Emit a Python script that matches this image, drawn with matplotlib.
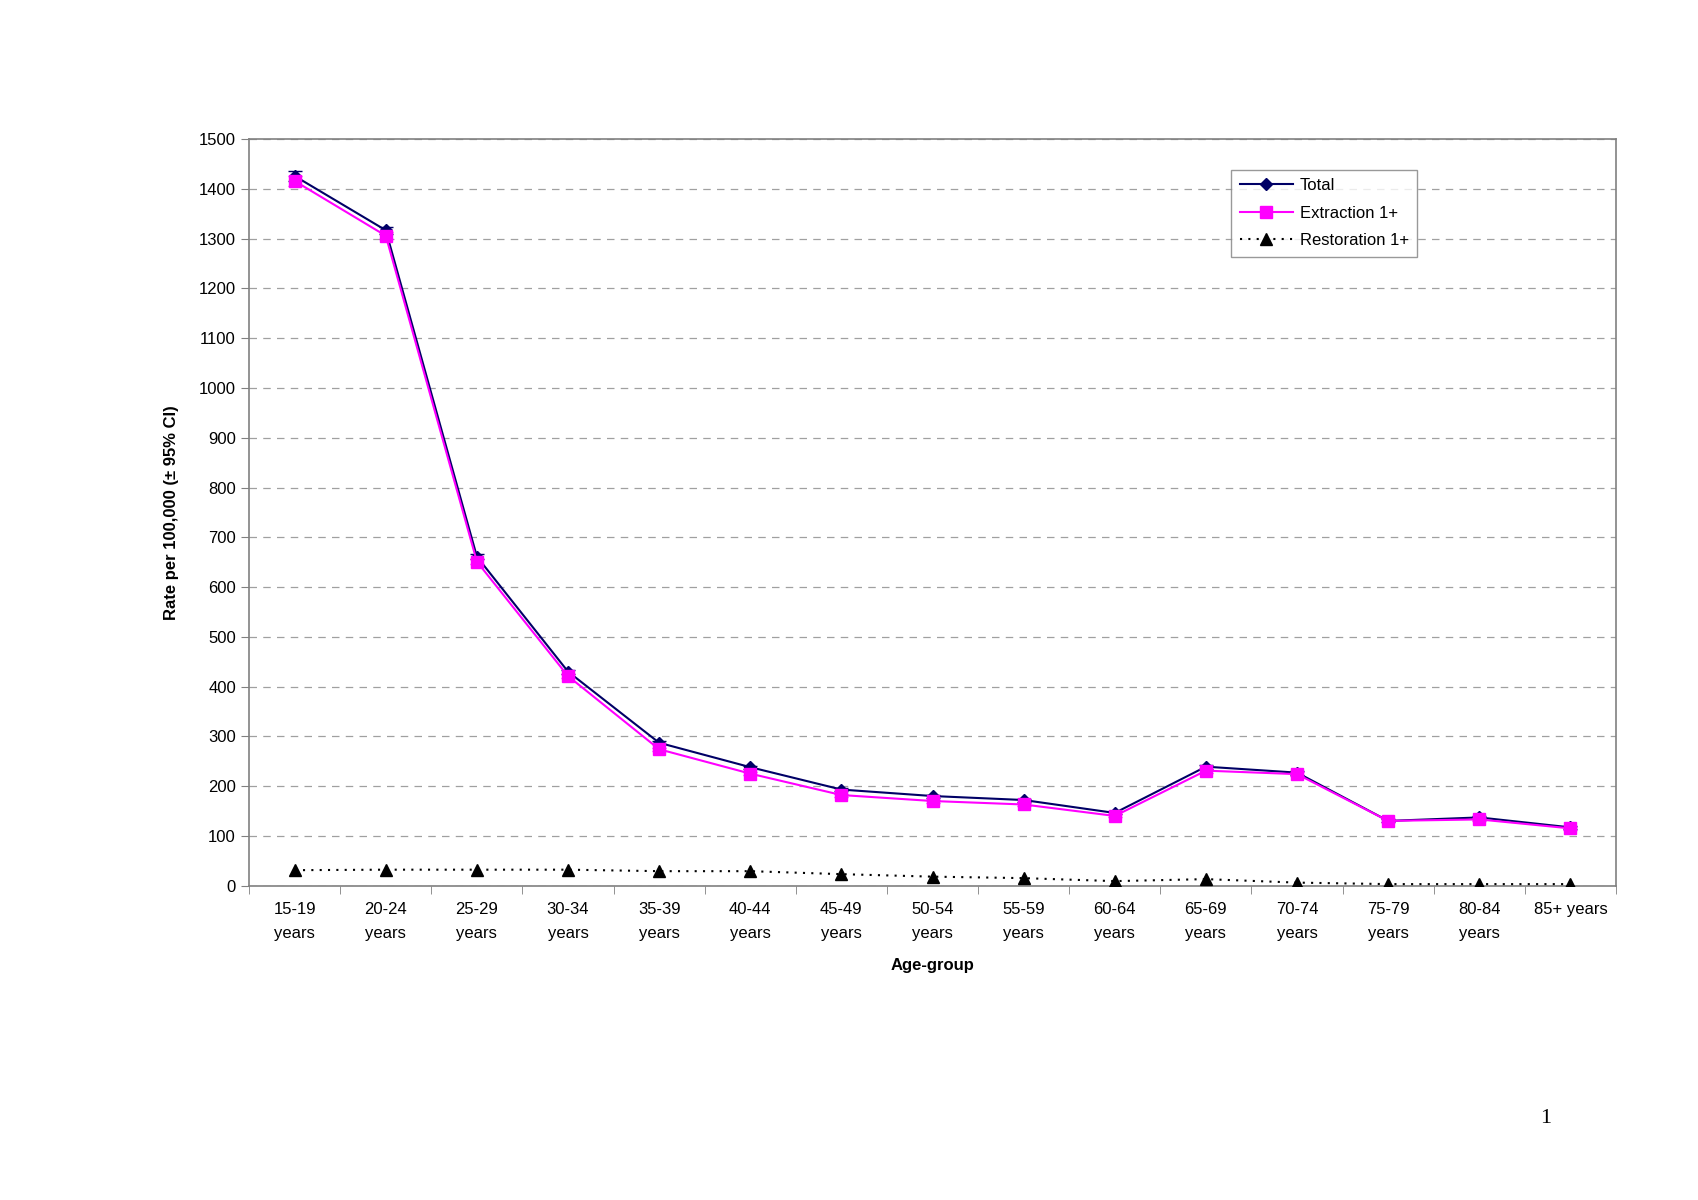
import numpy as np
import matplotlib.pyplot as plt
from matplotlib.ticker import MultipleLocator, FixedLocator
from matplotlib.lines import Line2D

plt.rcParams['font.family'] = ['Liberation Sans', 'DejaVu Sans']

age_groups = ["15-19\nyears", "20-24\nyears", "25-29\nyears", "30-34\nyears", "35-39\nyears",
              "40-44\nyears", "45-49\nyears", "50-54\nyears", "55-59\nyears", "60-64\nyears",
              "65-69\nyears", "70-74\nyears", "75-79\nyears", "80-84\nyears", "85+ years"]
total = [1426, 1317, 661, 430, 287, 238, 193, 180, 172, 146, 239, 227, 130, 137, 117]
total_ci = [10, 7, 5, 4, 3, 3, 3, 3, 3, 3, 4, 4, 3, 3, 3]
extraction = [1416, 1306, 651, 421, 274, 225, 182, 170, 163, 140, 231, 224, 130, 133, 115]
extraction_ci = [10, 7, 5, 4, 3, 3, 3, 3, 3, 3, 4, 4, 3, 3, 3]
restoration = [31, 32, 32, 32, 29, 29, 23, 18, 15, 9, 13, 6, 3, 3, 3]

fig = plt.figure(figsize=(16.98, 12), dpi=100)
ax = fig.add_axes([0.1467, 0.262, 0.805, 0.622])

x = np.arange(len(age_groups))
ax.errorbar(x, total, yerr=total_ci, color='#000066', marker='D', markersize=6,
            lw=1.5, capsize=5, zorder=3)
ax.errorbar(x, extraction, yerr=extraction_ci, color='#ff00ff', marker='s', markersize=8,
            lw=1.5, capsize=5, zorder=4)
ax.plot(x, restoration, color='black', marker='^', markersize=9, lw=1.5,
        linestyle=(0, (1, 3)), zorder=5)

handles = [
    Line2D([], [], color='#000066', marker='D', markersize=6, lw=1.5),
    Line2D([], [], color='#ff00ff', marker='s', markersize=8, lw=1.5),
    Line2D([], [], color='black', marker='^', markersize=9, lw=1.5, linestyle=(0, (1, 3))),
]
labels = ['Total', 'Extraction 1+', 'Restoration 1+']

ax.set_xlim(-0.5, len(age_groups) - 0.5)
ax.set_ylim(0, 1500)
ax.yaxis.set_major_locator(MultipleLocator(100))
ax.set_xticks(x)
ax.set_xticklabels(age_groups, fontsize=12, linespacing=1.75)
ax.xaxis.set_minor_locator(FixedLocator(np.arange(-0.5, len(age_groups), 1)))
ax.tick_params(axis='x', which='major', length=0, pad=12)
ax.tick_params(axis='x', which='minor', length=6, color='#808080')
ax.tick_params(axis='y', length=6, color='#808080', labelsize=12)
ax.grid(axis='y', linestyle=(0, (6, 5)), color='#a0a0a0', lw=0.9)
for s in ax.spines.values():
    s.set_color('#808080')
    s.set_linewidth(1.2)

ax.set_ylabel('Rate per 100,000 (± 95% CI)', fontsize=12, fontweight='bold', labelpad=14)
ax.set_xlabel('Age-group', fontsize=12, fontweight='bold', labelpad=12)

leg = ax.legend(handles, labels, loc='upper left', bbox_to_anchor=(0.7125, 0.97), fontsize=12,
                frameon=True, fancybox=False, edgecolor='#808080', handlelength=3.2,
                borderpad=0.5, labelspacing=0.75, handletextpad=0.4)
leg.get_frame().set_linewidth(1.0)

fig.text(0.907, 0.064, '1', fontsize=16, family='Liberation Serif')

fig.savefig('out.png', dpi=100)
